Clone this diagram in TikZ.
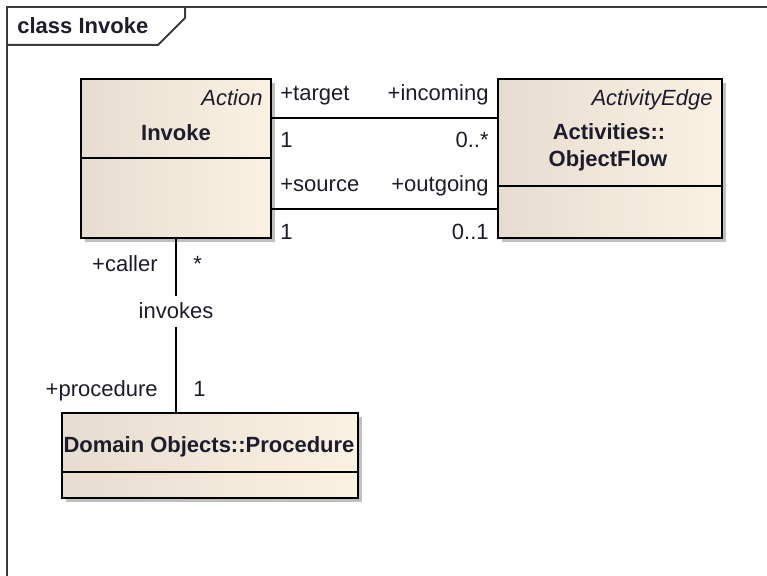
\documentclass[tikz,border=0pt]{standalone}
\usepackage{fontspec}
\setmainfont{Liberation Sans}
\usetikzlibrary{shadows}
\definecolor{boxL}{RGB}{230,221,208}
\definecolor{boxR}{RGB}{251,241,227}
\definecolor{txt}{RGB}{28,28,44}
\definecolor{framec}{RGB}{60,60,60}
\begin{document}
\begin{tikzpicture}[x=0.5pt,y=-0.5pt,
  every node/.style={font=\fontsize{11}{13}\selectfont, text=txt, inner sep=0pt},
  classbox/.style={draw=black, line width=1pt, left color=boxL, right color=boxR,
    drop shadow={shadow xshift=2pt, shadow yshift=-2pt, opacity=1, fill=black!25}},
  conn/.style={draw=black, line width=1pt},
  framel/.style={draw=framec, line width=1pt},
  lbl/.style={anchor=base west},
  rlbl/.style={anchor=base east},
  bold/.style={font=\fontsize{11}{13}\selectfont\bfseries},
  ital/.style={font=\fontsize{11}{13}\selectfont\itshape}]
\useasboundingbox (0,0) rectangle (767,576);
% frame
\draw[framel] (7,576) -- (7,7) -- (767,7);
\draw[framel] (7,45) -- (158,45) -- (185,18) -- (185,7);
\node[bold, anchor=base west] (title) at (17,34) {class Invoke};
% class boxes
\node[classbox, minimum width=95pt, minimum height=79.5pt] (inv) at (176,158.5) {};
\node[classbox, minimum width=112pt, minimum height=79.5pt] (of) at (610,158.5) {};
\node[classbox, minimum width=148pt, minimum height=42.5pt] (proc) at (210,455.5) {};
% dividers
\coordinate (d1) at (0,158);
\coordinate (d2) at (0,186);
\coordinate (d3) at (0,472);
\draw[conn] (inv.west |- d1) -- (inv.east |- d1);
\draw[conn] (of.west |- d2) -- (of.east |- d2);
\draw[conn] (proc.west |- d3) -- (proc.east |- d3);
% box texts
\node[ital, anchor=base east] (invst) at (263,106) {Action};
\node[bold, anchor=base] (invname) at (176,141) {Invoke};
\node[ital, anchor=base east] (ofst) at (713,106) {ActivityEdge};
\node[bold, anchor=base] (ofname1) at (609,140) {Activities::};
\node[bold, anchor=base] (ofname2) at (608,167) {ObjectFlow};
\node[bold, anchor=base] (procname) at (209,453) {Domain Objects::Procedure};
% associations
\coordinate (c1) at (0,118);
\coordinate (c2) at (0,209);
\draw[conn] (inv.east |- c1) -- (of.west |- c1);
\draw[conn] (inv.east |- c2) -- (of.west |- c2);
\node[lbl] (l1) at (280,101) {+target};
\node[rlbl] (l2) at (489,101) {+incoming};
\node[lbl] (l3) at (280,148) {1};
\node[rlbl] (l4) at (489,148) {0..*};
\node[lbl] (l5) at (280,192) {+source};
\node[rlbl] (l6) at (489,192) {+outgoing};
\node[lbl] (l7) at (280,240) {1};
\node[rlbl] (l8) at (489,240) {0..1};
% invokes
\node[anchor=base, inner ysep=3.5pt] (invk) at (176,319) {invokes};
\draw[conn] (inv.south) -- (invk.north);
\draw[conn] (invk.south) -- (invk.south |- proc.north);
\node[rlbl] (l9) at (158,272) {+caller};
\node[lbl] (l10) at (193,272) {*};
\node[rlbl] (l11) at (158,397) {+procedure};
\node[lbl] (l12) at (193,397) {1};
\end{tikzpicture}
\end{document}
